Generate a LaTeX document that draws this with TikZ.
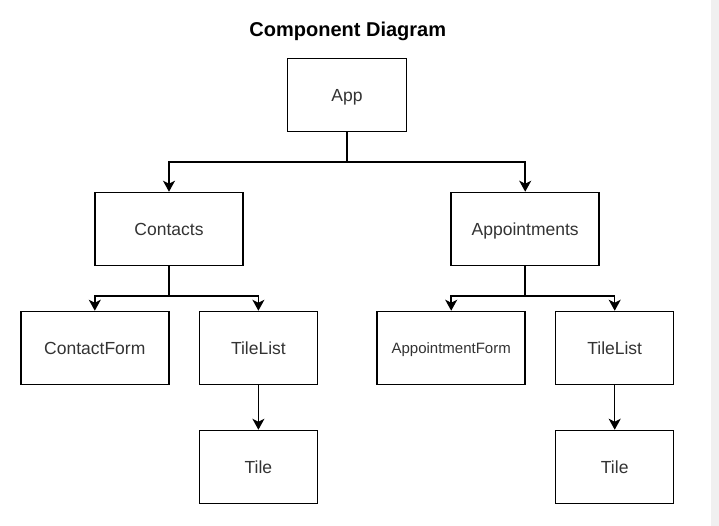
\documentclass[tikz,border=0pt]{standalone}
\usepackage{fontspec}
\setmainfont{Liberation Sans}
\usetikzlibrary{arrows.meta}
\definecolor{txt}{HTML}{333333}
\definecolor{strip}{HTML}{F0F0F0}
\begin{document}
\begin{tikzpicture}[x=1pt,y=-1pt,
  box/.style={draw=black,line width=1.5pt,inner sep=0pt,text=txt,
    font=\fontsize{17.5}{20}\selectfont,minimum height=73pt,
    text height=12.5pt,text depth=0pt},
  wbox/.style={box,minimum width=148pt},
  nbox/.style={box,minimum width=118pt},
  arr/.style={draw=black,line width=1.5pt,-{Stealth[length=11pt,width=12pt,inset=3pt]}},
  conn/.style={draw=black,line width=1.5pt}]
\useasboundingbox (0,0) rectangle (719,526);
\fill[white] (0,0) rectangle (719,526);
\fill[strip] (711,0) rectangle (719,526);
\node[font=\bfseries\fontsize{20}{24}\selectfont,text=black,text height=14.3pt,text depth=0pt,inner sep=0pt] (title) at (347.8,29.7) {Component Diagram};
\node[box,minimum width=119pt] (app) at (347,95) {App};
\node[wbox] (contacts) at (169,229) {Contacts};
\node[wbox] (appts) at (525.2,229) {Appointments};
\node[wbox] (cform) at (94.8,348) {ContactForm};
\node[nbox] (tl1) at (258.4,348) {TileList};
\node[nbox] (t1) at (258.4,467) {Tile};
\node[wbox,font=\fontsize{15}{18}\selectfont,text height=10.7pt] (aform) at (451.2,348) {AppointmentForm};
\node[nbox] (tl2) at (614.7,348) {TileList};
\node[nbox] (t2) at (614.7,467) {Tile};
\coordinate (j0) at (347,162);
\coordinate (j1) at (169,296);
\coordinate (j2) at (525.2,296);
\draw[conn] (app) -- (j0);
\draw[arr] (j0) -| (contacts);
\draw[arr] (j0) -| (appts);
\draw[conn] (contacts) -- (j1);
\draw[arr] (j1) -| (cform);
\draw[arr] (j1) -| (tl1);
\draw[conn] (appts) -- (j2);
\draw[arr] (j2) -| (aform);
\draw[arr] (j2) -| (tl2);
\draw[arr] (tl1) -- (t1);
\draw[arr] (tl2) -- (t2);
\end{tikzpicture}
\end{document}
